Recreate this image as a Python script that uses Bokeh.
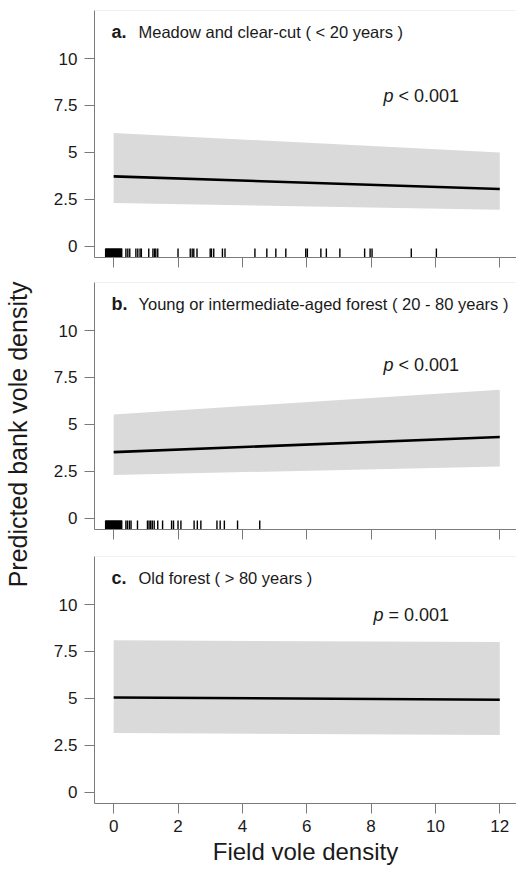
from bokeh.plotting import figure
from bokeh.layouts import row, column
from bokeh.models import Range1d, FixedTicker, Label, Span, CustomLabelingPolicy
from bokeh.embed import file_html
from bokeh.resources import INLINE

# ---------------- data ----------------
fit_x = [0, 12]

a_fit = [3.72, 3.05]
a_lo = [2.31, 1.94]
a_hi = [6.03, 5.00]

b_fit = [3.52, 4.33]
b_lo = [2.31, 2.75]
b_hi = [5.53, 6.85]

c_fit = [5.05, 4.93]
c_lo = [3.15, 3.05]
c_hi = [8.10, 8.00]

rug_zero = [-0.25, -0.23, -0.21, -0.19, -0.17, -0.15, -0.13, -0.11, -0.09, -0.07, -0.05,
            -0.03, -0.01, 0.01, 0.03, 0.05, 0.07, 0.09, 0.11, 0.13, 0.15, 0.17, 0.19,
            0.21, 0.23, 0.25]

rug_a = rug_zero + [0.38, 0.44, 0.5, 0.69, 0.75, 0.82, 0.86, 1.09, 1.22, 1.27, 1.31, 1.37,
                    2.0, 2.38, 2.44, 2.49, 2.59, 3.0, 3.04, 3.11, 3.38, 3.46,
                    4.39, 4.76, 5.04, 5.35, 5.97, 6.02, 6.44, 6.61, 7.03, 7.8, 7.97, 8.03,
                    9.25, 10.03]

rug_b = rug_zero + [0.38, 0.43, 0.49, 0.54, 0.74, 1.05, 1.1, 1.15, 1.2, 1.26, 1.37, 1.52,
                    1.8, 1.86, 2.0, 2.09, 2.5, 2.6, 2.71, 3.21, 3.31, 3.44, 3.85, 4.54]

letters = ["a.", "b.", "c."]
titles = ["Meadow and clear-cut ( < 20 years )",
          "Young or intermediate-aged forest ( 20 - 80 years )",
          "Old forest ( > 80 years )"]
p_ops = ["< 0.001", "< 0.001", "= 0.001"]

x_ticks = [0, 2, 4, 6, 8, 10, 12]
y_ticks = [0, 2.5, 5, 7.5, 10]
y_tick_labels = ["0", "2.5", "5", "7.5", "10"]

x_label = "Field vole density"
y_label = "Predicted bank vole density"

# ---------------- styling ----------------
FONT = "Liberation Sans"
X_RANGE = (-0.596, 12.52)
Y_RANGE = (-0.60, 12.56)
RUG_TOP = -0.12
AXIS_COL = "#7a7a7a"
TEXT_COL = "#1a1a1a"
FRAME_H = 247

HIDE_LABELS = """
const out = indices.clone()
for (let i = 0; i < out.size; i++) { out.unset(i) }
return out
"""


def make_panel(i, fit, lo, hi, rug, top, bottom, last):
    p = figure(width=468, height=top + FRAME_H + bottom,
               x_range=Range1d(*X_RANGE), y_range=Range1d(*Y_RANGE),
               output_backend="svg", toolbar_location=None,
               min_border_left=46, min_border_right=0,
               min_border_top=top, min_border_bottom=bottom)
    p.xgrid.visible = False
    p.ygrid.visible = False
    p.outline_line_color = None
    p.background_fill_color = "white"
    p.border_fill_color = "white"
    p.add_layout(Span(location=Y_RANGE[1], dimension="width",
                      line_color="#e2e2e2", line_width=1))

    p.varea(x=fit_x, y1=lo, y2=hi, fill_color="#dadada")
    p.line(x=fit_x, y=fit, line_color="black", line_width=2.6)
    if rug:
        p.segment(x0=rug, y0=[Y_RANGE[0]] * len(rug), x1=rug, y1=[RUG_TOP] * len(rug),
                  line_color="black", line_width=1.4)

    for ax in (p.xaxis[0], p.yaxis[0]):
        ax.axis_line_color = AXIS_COL
        ax.major_tick_line_color = AXIS_COL
        ax.minor_tick_line_color = None
        ax.major_tick_out = 10
        ax.major_tick_in = 0
        ax.major_label_text_font = FONT
        ax.major_label_text_font_size = "17px"
        ax.major_label_text_color = TEXT_COL

    p.xaxis.ticker = FixedTicker(ticks=x_ticks)
    p.yaxis.ticker = FixedTicker(ticks=y_ticks)
    p.yaxis.major_label_overrides = {t: s for t, s in zip(y_ticks, y_tick_labels)}
    p.yaxis.major_label_standoff = 7

    if last:
        p.xaxis.major_label_standoff = 6
        p.xaxis.axis_label = x_label
        p.xaxis.axis_label_text_font = FONT
        p.xaxis.axis_label_text_font_size = "24px"
        p.xaxis.axis_label_text_font_style = "normal"
        p.xaxis.axis_label_text_color = TEXT_COL
        p.xaxis.axis_label_standoff = 3
    else:
        p.xaxis.major_label_text_font_size = "1px"
        p.xaxis.major_label_standoff = 0
        p.xaxis.major_label_policy = CustomLabelingPolicy(code=HIDE_LABELS)

    base = FRAME_H - 21
    p.add_layout(Label(x=17, y=base, x_units="screen", y_units="screen",
                       text=letters[i], text_font=FONT, text_font_size="18px",
                       text_font_style="bold", text_color=TEXT_COL,
                       text_baseline="alphabetic"))
    p.add_layout(Label(x=44, y=base, x_units="screen", y_units="screen",
                       text=titles[i], text_font=FONT, text_font_size="16.5px",
                       text_color=TEXT_COL, text_baseline="alphabetic"))

    px = [289, 289, 279][i]
    py = [161.5, 165, 188.3][i]
    p.add_layout(Label(x=px, y=py, x_units="screen", y_units="screen",
                       text="p", text_font=FONT, text_font_size="18px",
                       text_font_style="italic", text_color=TEXT_COL,
                       text_baseline="alphabetic"))
    p.add_layout(Label(x=px + 15, y=py, x_units="screen", y_units="screen",
                       text=p_ops[i], text_font=FONT, text_font_size="18px",
                       text_color=TEXT_COL, text_baseline="alphabetic"))
    return p


pa = make_panel(0, a_fit, a_lo, a_hi, rug_a, 10, 25, False)
pb = make_panel(1, b_fit, b_lo, b_hi, rug_b, 0, 27, False)
pc = make_panel(2, c_fit, c_lo, c_hi, None, 0, 66, True)

lab = figure(width=48, height=869, x_range=Range1d(0, 1), y_range=Range1d(0, 1),
             output_backend="svg", toolbar_location=None,
             min_border_left=2, min_border_right=0, min_border_top=0, min_border_bottom=1)
lab.xaxis.visible = False
lab.xgrid.visible = False
lab.ygrid.visible = False
lab.outline_line_color = None
lab.yaxis.ticker = FixedTicker(ticks=[])
lab.yaxis.axis_label = y_label
lab.yaxis.axis_label_text_font = FONT
lab.yaxis.axis_label_text_font_size = "25px"
lab.yaxis.axis_label_text_font_style = "normal"
lab.yaxis.axis_label_text_color = TEXT_COL
lab.yaxis.axis_label_standoff = 0
lab.yaxis.major_label_standoff = 0
lab.yaxis.major_tick_line_color = None
lab.yaxis.minor_tick_line_color = None
lab.yaxis.axis_line_color = None
lab.yaxis.major_tick_out = 0
lab.yaxis.major_tick_in = 0

layout = row(lab, column(pa, pb, pc))

open("out.html", "w").write(file_html(layout, INLINE))
